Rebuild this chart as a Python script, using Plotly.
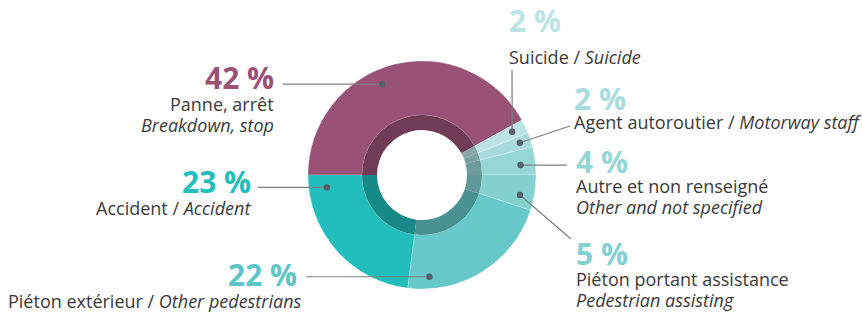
import math
import plotly.graph_objects as go

# ---------------- data ----------------
categories = [
    "Panne, arrêt", "Suicide", "Agent autoroutier", "Autre et non renseigné",
    "Piéton portant assistance", "Piéton extérieur", "Accident",
]
values = [42, 2, 2, 4, 5, 22, 23]
pct_labels = ["42 %", "2 %", "2 %", "4 %", "5 %", "22 %", "23 %"]
fr_text = ["Panne, arrêt", "Suicide /", "Agent autoroutier /", "Autre et non renseigné",
           "Piéton portant assistance", "Piéton extérieur /", "Accident /"]
en_text = ["Breakdown, stop", "Suicide", "Motorway staff", "Other and not specified",
           "Pedestrian assisting", "Other pedestrians", "Accident"]

# ---------------- style ----------------
W, H = 862, 312
CX, CY = 422, 175          # donut centre (px)
R_OUT, R_MID, R_IN = 114, 60, 45
colors = ["#995275", "#BCE4E4", "#A8DCDC", "#97D6D7", "#84D1D2", "#66C8C9", "#22BDBD"]
pct_colors = ["#995275", "#BCE4E4", "#A8DCDC", "#95D5D6", "#82D0D1", "#5DC5C7", "#22BDBD"]
TEXT_COL = "#3a3a3a"
FONT = "Open Sans"
PCT_SIZE = 30
TXT_SIZE = 18


def darker(hexc, f=0.73):
    r, g, b = (int(hexc[i:i + 2], 16) for i in (1, 3, 5))
    return "rgb(%d,%d,%d)" % (r * f, g * f, b * f)


def px(x):
    return x / W


def py(y):
    return 1 - y / H


fig = go.Figure()
fig.add_trace(go.Pie(
    values=values, labels=categories, sort=False, direction="clockwise", rotation=-90,
    hole=R_MID / R_OUT, marker=dict(colors=colors, line=dict(color="rgba(255,255,255,0.35)", width=0.6)),
    textinfo="none", hoverinfo="label+percent", showlegend=False,
    domain=dict(x=[px(CX - R_OUT), px(CX + R_OUT)], y=[py(CY + R_OUT), py(CY - R_OUT)]),
))
fig.add_trace(go.Pie(
    values=values, labels=categories, sort=False, direction="clockwise", rotation=-90,
    hole=R_IN / R_MID, marker=dict(colors=[darker(c) for c in colors], line=dict(width=0)),
    textinfo="none", hoverinfo="label+percent", showlegend=False,
    domain=dict(x=[px(CX - R_MID), px(CX + R_MID)], y=[py(CY + R_MID), py(CY - R_MID)]),
))

# leader-line anchors: position inside each slice (fraction of slice span, radius px)
ANCHOR_F = [0.44, 0.44, 0.47, 0.60, 0.64, 0.857, 0.91]
ANCHOR_R = [99, 100, 103, 99, 100, 102, 96]
# leader-line end points (px); None means same y as the dot
LINE_END = [(283, None), (512, 70), (570, 126), (567, None), (571, 239), (306, None), (258, None)]

total = sum(values)
start = 180.0
shapes = []
for i, v in enumerate(values):
    span = v / total * 360.0
    ang = math.radians(start - ANCHOR_F[i] * span)
    start -= span
    dx = CX + ANCHOR_R[i] * math.cos(ang)
    dy = CY - ANCHOR_R[i] * math.sin(ang)
    ex, ey = LINE_END[i]
    if ey is None:
        ey = dy
    shapes.append(dict(type="line", xref="paper", yref="paper",
                       x0=px(dx), y0=py(dy), x1=px(ex), y1=py(ey),
                       line=dict(color="#7a7f80", width=1.2)))
    rr = 3.2
    shapes.append(dict(type="circle", xref="paper", yref="paper",
                       x0=px(dx - rr), x1=px(dx + rr), y0=py(dy + rr), y1=py(dy - rr),
                       fillcolor="#56606a", line=dict(width=0)))

# label layout (px): x of text, anchor, x of percent, y of percent, y of text line(s)
LABEL_POS = [
    (275, "right", 275, 77, [104, 125]),
    (508, "left", 508, 21, [57]),
    (573, "left", 573, 98, [122]),
    (575, "left", 575, 161, [186, 207]),
    (575, "left", 575, 253, [279, 300]),
    (303, "right", 298, 274, [301]),
    (252, "right", 252, 181, [208]),
]

annotations = []
for i in range(len(values)):
    x, anc, xp, yp, ylines = LABEL_POS[i]
    annotations.append(dict(
        x=px(xp), y=py(yp), xref="paper", yref="paper", xanchor=anc, yanchor="middle",
        text="<b>%s</b>" % pct_labels[i], showarrow=False, borderpad=0,
        font=dict(family=FONT, size=PCT_SIZE, color=pct_colors[i])))
    if len(ylines) == 1:
        lines = ["%s <i>%s</i>" % (fr_text[i], en_text[i])]
    else:
        lines = [fr_text[i], "<i>%s</i>" % en_text[i]]
    for txt, yl in zip(lines, ylines):
        annotations.append(dict(
            x=px(x), y=py(yl), xref="paper", yref="paper", xanchor=anc, yanchor="middle",
            align=anc, text=txt, showarrow=False, borderpad=0,
            font=dict(family=FONT, size=TXT_SIZE, color=TEXT_COL)))

fig.update_layout(
    width=W, height=H, margin=dict(l=0, r=0, t=0, b=0),
    paper_bgcolor="white", plot_bgcolor="white",
    shapes=shapes, annotations=annotations,
)
fig.write_html("out.html", config={"displayModeBar": False},
               post_script="document.body.style.margin='0';")
